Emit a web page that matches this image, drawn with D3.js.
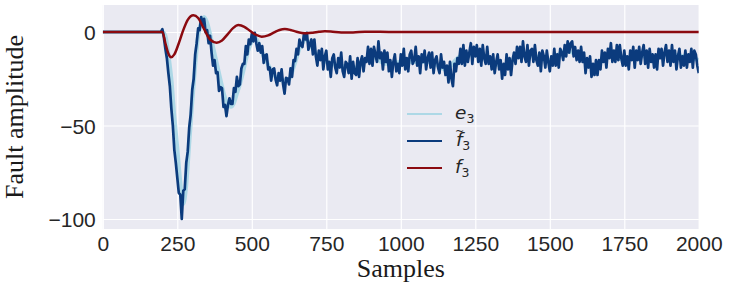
<!DOCTYPE html>
<html>
<head>
<meta charset="utf-8">
<script src="https://cdn.jsdelivr.net/npm/d3@7"></script>
<style>
    body { margin: 0; background: #ffffff; }
    .tick text { font-family: "Liberation Sans", Arial, sans-serif; font-size: 21px; fill: #262626; }
    .axisLabel { font-family: "Liberation Serif", "Times New Roman", serif; font-size: 26px; fill: #1a1a1a; }
    .legendText { font-family: "DejaVu Sans", sans-serif; font-style: italic; font-size: 18.5px; fill: #262626; }
</style>
</head>
<body>
<script>
(function(){
    //x axis ticks and y axis ticks
    var xTicks = [0, 250, 500, 750, 1000, 1250, 1500, 1750, 2000];
    var yTicks = [0, -50, -100];

    //f3 (true fault) - sample positions and values
    var fSamples = [0, 200, 210, 220, 229, 240, 255, 270, 285, 304, 320, 340, 360, 382, 400, 420, 438, 455, 475, 495,
        515, 533, 555, 575, 593, 611, 630, 650, 668, 684, 705, 725, 745, 765, 800, 840, 880, 920, 1000, 2000];
    var fValues = [0, 0, -6, -11.5, -13.5, -12, -6, 1, 6.5, 9, 7.5, 1.5, -4, -5.7, -4.5, -1, 2.2, 3.7, 2.8, 0.5,
        -1.6, -2.5, -1.8, -0.2, 1.1, 1.6, 1.1, 0.1, -0.5, -0.7, -0.4, 0.1, 0.4, 0.3, -0.2, -0.2, 0.1, 0.1, 0, 0];

    //e3 - sample positions and values
    var eSamples = [0, 200, 210, 220, 230, 240, 250, 260, 270, 280, 290, 300, 310, 320, 330, 340, 350, 360, 370, 380,
        390, 400, 410, 420, 430, 440, 450, 460, 470, 480, 490, 500, 510, 520, 530, 540, 550, 560, 570, 580,
        590, 600, 610, 620, 630, 640, 650, 660, 670, 680, 690, 700, 750, 800, 850, 900, 950, 1000, 1050, 1100,
        1150, 1200, 1250, 1300, 1350, 1400, 1450, 1500, 1550, 1600, 1650, 1700, 1750, 1800, 1850, 1900, 1950, 2000];
    var eValues = [0, 0, -2, -12, -25, -45, -62, -80, -92, -82, -60, -38, -18, -2, 5, 8, 5, -1, -8, -15,
        -22, -29, -35, -39, -40, -38, -33, -28, -22, -15, -9, -5, -3, -5, -9, -13, -16, -19, -22, -24,
        -25, -26, -26, -26, -24, -19, -14, -9, -6, -4, -5, -8, -16, -18, -19, -13, -17, -16, -16, -16,
        -20, -13, -12, -15, -19, -11, -13, -15, -10, -13, -19, -12, -15, -13, -13, -12, -13, -15];

    //f3 tilde (estimate) - flat until start, then one value every step samples
    var tStart = 195,
        tStep = 5;
    var tValues = [
        0, 1.5, -3, -9, -14, -22, -29, -41, -50, -63, -70,
        -78, -86, -87, -100, -85, -84, -70, -64, -51, -44,
        -31, -25, -12, -6, 2, 1, 8, 4, 7, 0,
        1, -6, -2, -11, -18, -15, -22, -21.5, -31.5, -29.5,
        -30, -40, -39, -45, -39, -35.5, -38.5, -38.5, -30, -32,
        -24, -29, -28, -19.5, -17, -17, -7.5, -12, -4, -6.5,
        -1, -5, -0.5, -6, -10, -6, -11, -7.5, -16.5, -12.5,
        -12, -20, -19, -26, -20, -19.5, -25.5, -28.5, -22, -26,
        -20, -28, -33, -24.5, -25, -28, -19.5, -24, -15, -15.5,
        -9, -12, -4, -7, -8, -1, -4, -0.5, -9.5, -6.5,
        -4, -12, -4, -13, -18, -10, -15, -9, -20, -13,
        -10, -20, -16, -24, -14, -12, -19, -22, -14, -19,
        -11, -21, -24, -16, -17, -22, -13, -25, -16, -22,
        -23, -14, -24, -16, -13, -21, -14, -16, -8, -17,
        -9, -18, -8, -12, -16, -5, -14, -11, -20, -10,
        -16, -11, -21, -15, -24, -16, -12, -21, -17, -22,
        -12, -18, -9, -20, -14, -21, -12, -10, -17, -15,
        -8, -18, -13, -22, -12, -16, -10, -20, -14, -11,
        -19, -11, -22, -15, -13, -19, -22, -12, -19, -16,
        -23, -18, -27, -16, -25, -29, -17, -21, -14, -17,
        -9, -17, -7, -18, -10, -16, -11, -6, -17, -8,
        -13, -7, -16, -9, -18, -7, -14, -17, -8, -17,
        -13, -20, -12, -22, -16, -12, -20, -15, -25, -17,
        -23, -12, -20, -14, -23, -15, -11, -17, -8, -14,
        -8, -16, -5, -13, -16, -7, -18, -10, -9, -16,
        -7, -15, -18, -11, -21, -10, -13, -19, -10, -16,
        -21, -13, -18, -9, -18, -12, -19, -9, -11, -15,
        -7, -13, -5, -11, -6, -5, -13, -8, -15, -10,
        -16, -8, -16, -11, -22, -14, -19, -13, -24, -17,
        -23, -15, -23, -15, -20, -10, -16, -11, -19, -9,
        -14, -6, -16, -10, -16, -7, -15, -7, -14, -18,
        -10, -18, -13, -20, -10, -15, -8, -19, -10, -15,
        -8, -17, -11, -7, -17, -10, -19, -9, -16, -12,
        -19, -12, -20, -9, -14, -9, -18, -11, -7, -16,
        -10, -18, -7, -16, -10, -20, -13, -9, -19, -13,
        -18, -10, -19, -12, -16, -9, -19, -10, -12, -18,
        -22
    ];

    //legend entries
    var legendNames = ["e", "f", "f"];
    var legendAccents = ["", "~", ""];
    var legendColors = ["#add8e6", "#0b3b7d", "#8b0a10"];

    window.onload = setChart();

    function setChart(){
        //frame dimensions
        var width = 731,
            height = 289,
            plotLeft = 102.8,
            plotRight = 698.8,
            plotTop = 5,
            plotBottom = 229;

        var svg = d3.select("body")
            .append("svg")
            .attr("width", width)
            .attr("height", height);

        var x = d3.scaleLinear()
            .domain([0, 2000])
            .range([plotLeft, plotRight]);

        var y = d3.scaleLinear()
            .domain([-105.35, 14.44])
            .range([plotBottom, plotTop]);

        //background
        svg.append("rect")
            .attr("x", plotLeft)
            .attr("y", plotTop)
            .attr("width", plotRight - plotLeft)
            .attr("height", plotBottom - plotTop)
            .style("fill", "#eaeaf2");

        //grid lines
        svg.append("g")
            .attr("transform", "translate(0," + plotBottom + ")")
            .call(d3.axisBottom(x).tickValues(xTicks).tickSize(-(plotBottom - plotTop)).tickFormat(""))
            .call(function(g){ g.select(".domain").remove(); })
            .selectAll("line")
            .style("stroke", "#ffffff")
            .style("stroke-width", 1.2);

        svg.append("g")
            .attr("transform", "translate(" + plotLeft + ",0)")
            .call(d3.axisLeft(y).tickValues(yTicks).tickSize(-(plotRight - plotLeft)).tickFormat(""))
            .call(function(g){ g.select(".domain").remove(); })
            .selectAll("line")
            .style("stroke", "#ffffff")
            .style("stroke-width", 1.2);

        //tick labels
        var xAxis = svg.append("g")
            .attr("transform", "translate(0," + plotBottom + ")")
            .call(d3.axisBottom(x).tickValues(xTicks).tickSize(0).tickPadding(0).tickFormat(d3.format("d")));
        xAxis.select(".domain").remove();
        xAxis.selectAll("text").attr("y", 22).attr("dy", 0);

        var yAxis = svg.append("g")
            .attr("transform", "translate(" + plotLeft + ",0)")
            .call(d3.axisLeft(y).tickValues(yTicks).tickSize(0).tickPadding(7));
        yAxis.select(".domain").remove();
        yAxis.selectAll("text").attr("dy", "0.36em");

        //clip to the plot area
        svg.append("clipPath")
            .attr("id", "plotClip")
            .append("rect")
            .attr("x", plotLeft)
            .attr("y", plotTop)
            .attr("width", plotRight - plotLeft)
            .attr("height", plotBottom - plotTop);

        var lines = svg.append("g").attr("clip-path", "url(#plotClip)");

        //e3 line
        var ePoints = eSamples.map(function(s, i){ return [s, eValues[i]]; });
        lines.append("path")
            .datum(ePoints)
            .attr("d", d3.line().x(function(d){ return x(d[0]); }).y(function(d){ return y(d[1]); }).curve(d3.curveMonotoneX))
            .style("fill", "none")
            .style("stroke", legendColors[0])
            .style("stroke-width", 4);

        //f3 tilde line
        var tPoints = [[0, 0]];
        tValues.forEach(function(v, i){
            tPoints.push([tStart + i * tStep, v]);
        });
        lines.append("path")
            .datum(tPoints)
            .attr("d", d3.line().x(function(d){ return x(d[0]); }).y(function(d){ return y(d[1]); }))
            .style("fill", "none")
            .style("stroke", legendColors[1])
            .style("stroke-width", 2.7)
            .style("stroke-linejoin", "round");

        //f3 line
        var fPoints = fSamples.map(function(s, i){ return [s, fValues[i]]; });
        lines.append("path")
            .datum(fPoints)
            .attr("d", d3.line().x(function(d){ return x(d[0]); }).y(function(d){ return y(d[1]); }).curve(d3.curveMonotoneX))
            .style("fill", "none")
            .style("stroke", legendColors[2])
            .style("stroke-width", 2.5);

        //axis labels
        svg.append("text")
            .attr("class", "axisLabel")
            .attr("x", (plotLeft + plotRight) / 2)
            .attr("y", 277)
            .attr("text-anchor", "middle")
            .text("Samples");

        svg.append("text")
            .attr("class", "axisLabel")
            .attr("transform", "translate(23," + (plotTop + plotBottom) / 2 + ") rotate(-90)")
            .attr("text-anchor", "middle")
            .text("Fault amplitude");

        //legend
        var legend = svg.append("g")
            .attr("transform", "translate(407,114)");

        var items = legend.selectAll(".legendItem")
            .data(legendNames)
            .enter()
            .append("g")
            .attr("class", "legendItem")
            .attr("transform", function(d, i){ return "translate(0," + (i * 27) + ")"; });

        items.append("line")
            .attr("x1", 0)
            .attr("x2", 35)
            .style("stroke", function(d, i){ return legendColors[i]; })
            .style("stroke-width", 2);

        var labels = items.append("text")
            .attr("class", "legendText")
            .attr("x", 48)
            .attr("y", 5);
        labels.append("tspan")
            .text(function(d){ return d; });
        //accent (tilde) sits above the letter, inside the same text
        labels.append("tspan")
            .attr("dx", function(d, i){ return legendAccents[i] ? -7.5 : 0; })
            .attr("dy", function(d, i){ return legendAccents[i] ? -11 : 0; })
            .style("font-style", "normal")
            .style("font-size", "11px")
            .text(function(d, i){ return legendAccents[i]; });
        labels.append("tspan")
            .attr("dx", function(d, i){ return legendAccents[i] ? -2 : 0; })
            .attr("dy", function(d, i){ return legendAccents[i] ? 15 : 4; })
            .style("font-style", "normal")
            .style("font-size", "12.5px")
            .text("3");
    }
})();
</script>
</body>
</html>
